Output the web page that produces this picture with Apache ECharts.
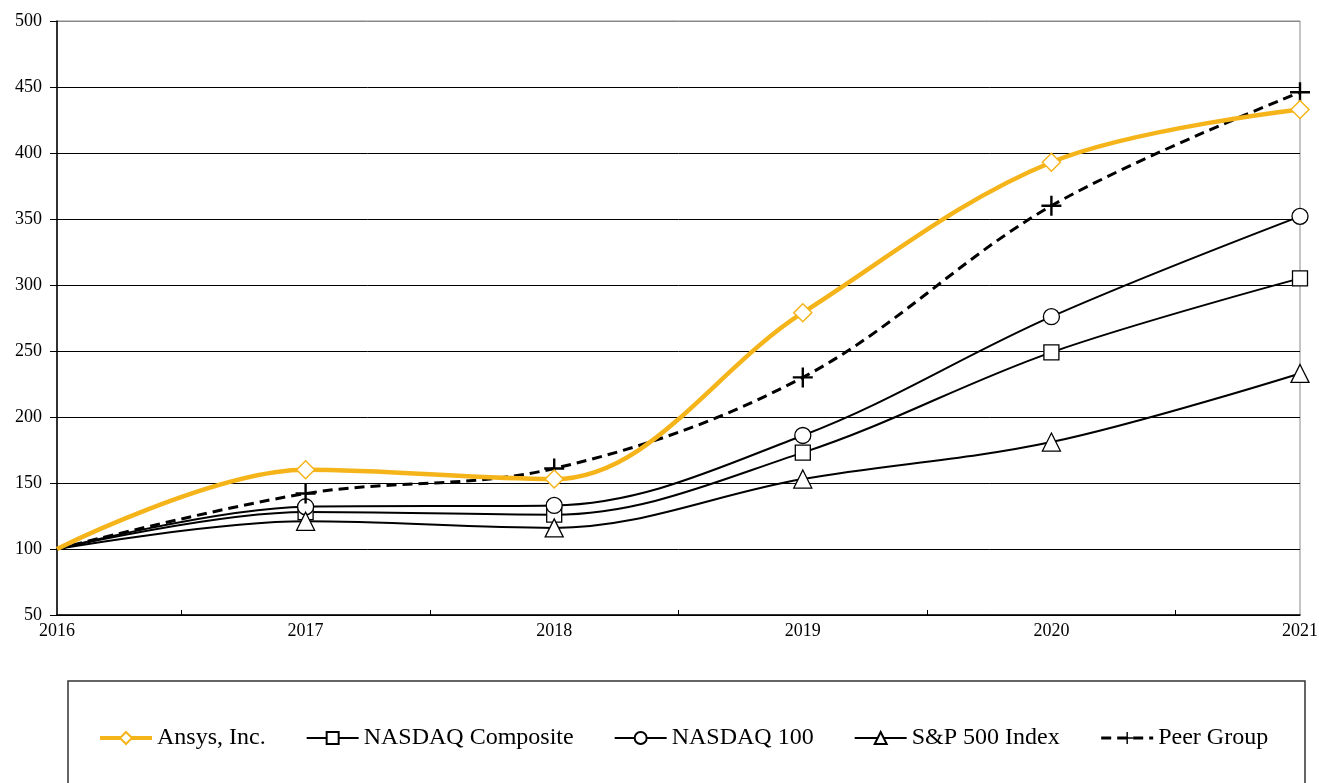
<!DOCTYPE html>
<html><head><meta charset="utf-8">
<script src="https://cdn.jsdelivr.net/npm/echarts@6/dist/echarts.min.js"></script>
<style>html,body{margin:0;padding:0;background:#fff}#c{width:1319px;height:783px}</style>
</head><body><div id="c"></div>
<script>
const years = [2016, 2017, 2018, 2019, 2020, 2021];
const yTicks = [50, 100, 150, 200, 250, 300, 350, 400, 450, 500];
const ansys = [100, 160, 153, 279, 393, 433];
const nasdaqComposite = [100, 128, 126, 173, 249, 305];
const nasdaq100 = [100, 132, 133, 186, 276, 352];
const sp500 = [100, 121, 116, 153, 181, 233];
const peerGroup = [100, 142, 161, 230, 360, 446];

const serif = '"Liberation Serif", "Times New Roman", serif';
const pair = arr => years.map((y, i) => i === 0 ? {value: [y, arr[i]], symbol: 'none'} : [y, arr[i]]);
const plus = 'path://M4.4,0h1.2v10h-1.2z M0,4.4h10v1.2h-10z';

const chart = echarts.init(document.getElementById('c'), null, {renderer: 'canvas'});
chart.setOption({
  backgroundColor: '#fff',
  animation: false,
  grid: {left: 57, right: 19, top: 21, bottom: 168, show: true, borderColor: '#888', borderWidth: 1,
    outerBoundsMode: 'none', containLabel: false},
  xAxis: {
    type: 'value', min: years[0], max: years[years.length - 1], interval: 0.5,
    axisLine: {show: true, lineStyle: {color: '#000', width: 1.5}},
    axisTick: {show: true, inside: true, length: 5, lineStyle: {color: '#000'},
      customValues: [2016.5, 2017.5, 2018.5, 2019.5, 2020.5]},
    axisLabel: {customValues: years, formatter: v => String(v), color: '#000',
      fontFamily: serif, fontSize: 18, margin: 7},
    splitLine: {show: false}
  },
  yAxis: {
    type: 'value', min: yTicks[0], max: yTicks[yTicks.length - 1], interval: 50,
    axisLine: {show: true, lineStyle: {color: '#000', width: 1.5}},
    axisTick: {show: true, length: 7, lineStyle: {color: '#000'}},
    axisLabel: {color: '#000', fontFamily: serif, fontSize: 18, margin: 15},
    splitLine: {show: true, lineStyle: {color: ['#000', '#000', '#000', '#000', '#000', '#000', '#000', '#000', '#000', '#888'], width: 1}}
  },
  legend: {
    bottom: 28, left: 93, itemWidth: 52, itemHeight: 15, itemGap: 40,
    textStyle: {fontFamily: serif, fontSize: 24, color: '#000'},
    data: [
      {name: 'Ansys, Inc.', lineStyle: {width: 4}},
      {name: 'NASDAQ Composite', lineStyle: {width: 2}},
      {name: 'NASDAQ 100', lineStyle: {width: 2}},
      {name: 'S&P 500 Index', lineStyle: {width: 2}},
      {name: 'Peer Group', lineStyle: {width: 3}}
    ]
  },
  graphic: [{
    type: 'rect', shape: {x: 68, y: 681, width: 1237, height: 130},
    style: {fill: 'none', stroke: '#333', lineWidth: 1.5}, silent: true
  }],
  series: [
    {name: 'NASDAQ Composite', type: 'line', smooth: 0.35, data: pair(nasdaqComposite),
      symbol: 'rect', symbolSize: 15, lineStyle: {color: '#000', width: 2},
      itemStyle: {color: '#fff', borderColor: '#000', borderWidth: 1.3}, z: 3},
    {name: 'NASDAQ 100', type: 'line', smooth: 0.35, data: pair(nasdaq100),
      symbol: 'circle', symbolSize: 16, lineStyle: {color: '#000', width: 2},
      itemStyle: {color: '#fff', borderColor: '#000', borderWidth: 1.3}, z: 3},
    {name: 'S&P 500 Index', type: 'line', smooth: 0.35, data: pair(sp500),
      symbol: 'triangle', symbolSize: 18, lineStyle: {color: '#000', width: 2},
      itemStyle: {color: '#fff', borderColor: '#000', borderWidth: 1.3}, z: 3},
    {name: 'Peer Group', type: 'line', smooth: 0.35, data: pair(peerGroup),
      symbol: plus, symbolSize: 20, lineStyle: {color: '#000', width: 3, type: [10, 6]},
      itemStyle: {color: '#000', borderWidth: 0}, z: 4},
    {name: 'Ansys, Inc.', type: 'line', smooth: 0.35, data: pair(ansys),
      symbol: 'diamond', symbolSize: 18, lineStyle: {color: '#F4B41A', width: 4.5},
      itemStyle: {color: '#fff', borderColor: '#F4B41A', borderWidth: 1.5}, z: 5}
  ]
});
</script></body></html>
